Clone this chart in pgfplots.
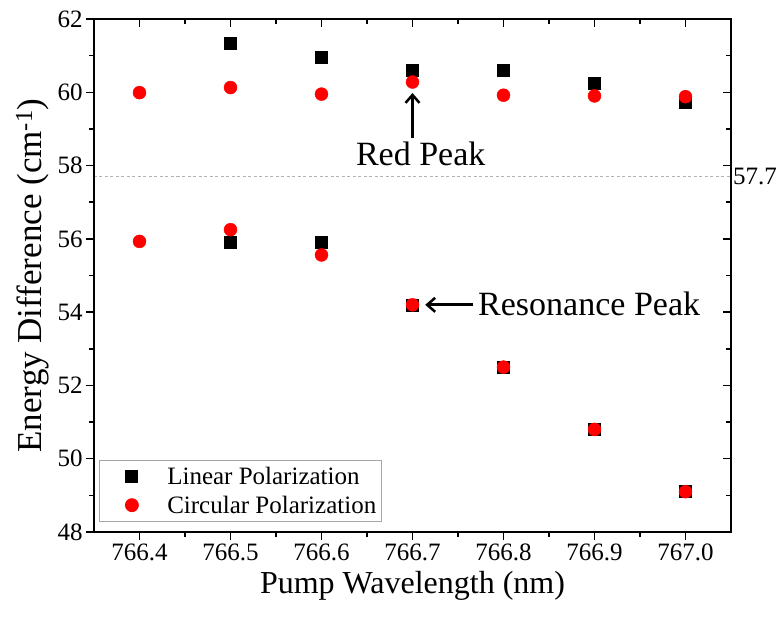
\documentclass[border=0pt]{standalone}
\usepackage{fontspec}
\setmainfont{Liberation Serif}
\usepackage{pgfplots}
\pgfplotsset{compat=1.18}
\usetikzlibrary{arrows.meta}
\newcommand{\ftick}{\fontsize{25}{30}\selectfont}
\newcommand{\fxlab}{\fontsize{32}{38}\selectfont}
\newcommand{\fylab}{\fontsize{35}{40}\selectfont}
\newcommand{\fann}{\fontsize{34}{40}\selectfont}
\newcommand{\fleg}{\fontsize{25}{30}\selectfont}
\begin{document}
\begin{tikzpicture}
\pgfplotsset{
  commonax/.style={
    width=637pt, height=513pt, scale only axis,
    xmin=766.35, xmax=767.05, ymin=48, ymax=62,
    xtick={766.4,766.5,766.6,766.7,766.8,766.9,767.0},
    ytick={48,50,52,54,56,58,60,62},
    minor x tick num=1, minor y tick num=1,
    major tick length=8pt, minor tick length=5pt,
    axis line style={line width=1.5pt},
    every tick/.style={line width=1.5pt, black},
    clip=false,
  }
}
\begin{axis}[commonax,
  xtick pos=bottom, ytick pos=left, tick align=outside,
  ticklabel style={font=\ftick},
  /pgf/number format/assume math mode=true,
  xticklabel style={/pgf/number format/.cd, fixed, fixed zerofill, precision=1, assume math mode=true},
  yticklabel style={/pgf/number format/.cd, fixed, precision=0, assume math mode=true},
  xlabel={Pump Wavelength (nm)},
  ylabel={Energy Difference (cm\textsuperscript{-1})},
  xlabel style={font=\fxlab, yshift=-4pt},
  ylabel style={font=\fylab, yshift=2pt},
  legend style={at={(rel axis cs:0.008,0.0195)}, anchor=south west,
    draw=gray!70, line width=0.8pt, font=\fleg, row sep=6pt,
    inner xsep=3pt, inner ysep=5pt},
  legend cell align=left,
  legend image code/.code={\path (0pt,0pt) (62pt,0pt); \draw[#1] plot coordinates {(29pt,0pt)};},
]
\addplot[gray!60, dash pattern=on 3pt off 2.5pt, line width=1.3pt, forget plot] coordinates {(766.35,57.7) (767.05,57.7)};
\addplot[only marks, mark=square*, mark size=6pt, black] coordinates {
(766.5,61.33) (766.6,60.97) (766.7,60.61) (766.8,60.60) (766.9,60.25) (767.0,59.72)
(766.5,55.92) (766.6,55.92) (766.7,54.20) (766.8,52.50) (766.9,50.80) (767.0,49.10)
};
\addplot[only marks, mark=*, mark size=6.5pt, red, mark options={draw=red, fill=red}] coordinates {
(766.4,59.99) (766.5,60.13) (766.6,59.95) (766.7,60.28) (766.8,59.92) (766.9,59.90) (767.0,59.88)
(766.4,55.93) (766.5,56.25) (766.6,55.56) (766.7,54.20) (766.8,52.50) (766.9,50.80) (767.0,49.10)
};
\legend{Linear Polarization, Circular Polarization}
\node[anchor=west, font=\ftick, inner sep=2pt] at (axis cs:767.05,57.7) {57.7};
\draw[line width=3pt, -{Straight Barb[length=8pt,width=14pt,line width=2.5pt]}] (axis cs:766.7,58.75) -- (axis cs:766.7,59.98);
\node[anchor=base, font=\fann] at (axis cs:766.709,58.0) {Red Peak};
\draw[line width=3pt, -{Straight Barb[length=8pt,width=14pt,line width=2.5pt]}] (axis cs:766.767,54.2) -- (axis cs:766.714,54.2);
\node[anchor=base west, font=\fann, inner sep=0pt] at (axis cs:766.772,53.92) {Resonance Peak};
\coordinate (sw) at (rel axis cs:0,0);
\coordinate (ne) at (rel axis cs:1,1);
\end{axis}
\begin{axis}[commonax,
  xtick pos=top, ytick pos=right, tick align=inside,
  xticklabels={}, yticklabels={},
]
\end{axis}
\pgfresetboundingbox
\path[use as bounding box] ([xshift=-94pt,yshift=-91pt]sw) rectangle ([xshift=47pt,yshift=19pt]ne);
\end{tikzpicture}
\end{document}
